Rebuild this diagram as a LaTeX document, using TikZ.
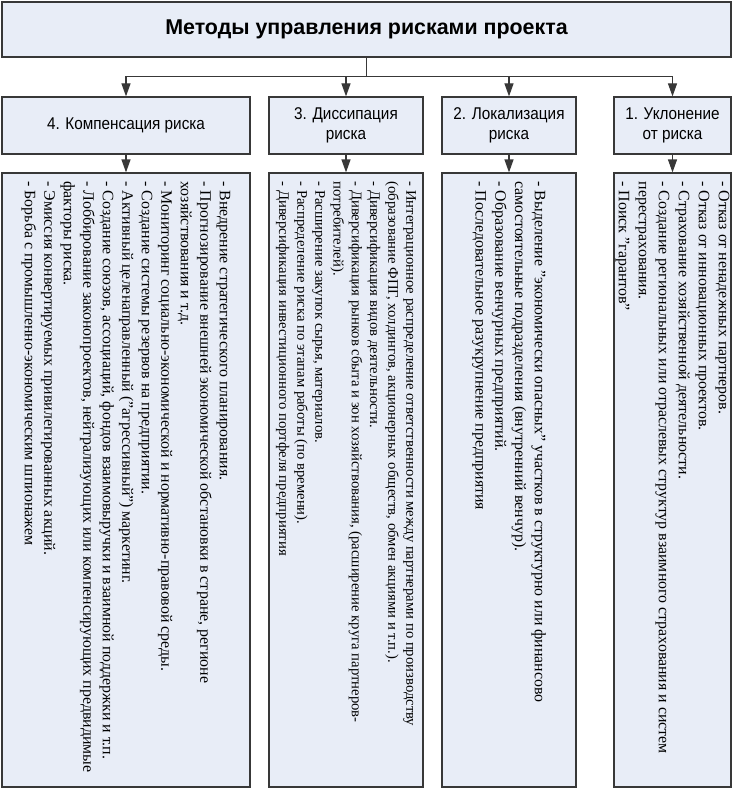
\documentclass[tikz,border=0pt]{standalone}
\usepackage{fontspec}
\setmainfont{Liberation Serif}
\newfontfamily\titlefont{Liberation Sans}
\newfontfamily\headfont{Liberation Sans}[FakeStretch=0.9]
\usepackage{tikz}
\usetikzlibrary{arrows.meta}
\definecolor{boxfill}{HTML}{E8EDF7}
\definecolor{boxline}{HTML}{383838}

\begin{document}
\begin{tikzpicture}[x=1pt, y=-1pt,
    box/.style={rectangle, draw=boxline, line width=1.2pt, fill=boxfill, inner sep=0pt},
    head/.style={box, minimum height=57pt, align=center, font=\headfont\fontsize{17}{20}\selectfont},
    list/.style={box, minimum height=614pt},
    items/.style={rotate=-90, anchor=west, align=left, inner sep=0pt},
    link/.style={draw=boxline, line width=1.2pt},
    arrow/.style={link, -{Triangle[width=9pt, length=13pt]}}]

    \useasboundingbox (0,0) rectangle (733,789);

    % Title
    \node[box, minimum width=729pt, minimum height=55pt,
          font=\titlefont\bfseries\fontsize{21.4}{24}\selectfont] (title) at (366.5,29.5) {Методы управления рисками проекта};
    \coordinate (fork) at ([yshift=-19pt]title.south);

    % Method headers
    \node[head, minimum width=248pt] (h4) at (126,125.5) {4. Компенсация риска};
    \node[head, minimum width=154pt] (h3) at (346,125.5) {3. Диссипация\\риска};
    \node[head, minimum width=134pt] (h2) at (509,125.5) {2. Локализация\\риска};
    \node[head, minimum width=117pt] (h1) at (672.5,125.5) {1. Уклонение\\от риска};

    % Method lists
    \node[list, minimum width=248pt] (l4) at (126,480) {};
    \node[list, minimum width=154pt] (l3) at (346,480) {};
    \node[list, minimum width=134pt] (l2) at (509,480) {};
    \node[list, minimum width=117pt] (l1) at (672.5,480) {};

    \node[items, font=\fontsize{15.9}{19.5}\selectfont] (t4) at ([yshift=-9pt]l4.north) {%
        - Внедрение стратегического планирования.\\
        - Прогнозирование внешней экономической обстановки в стране, регионе\\
        хозяйствования и т.д.\\
        - Мониторинг социально-экономической и нормативно-правовой среды.\\
        - Создание системы резервов на предприятии.\\
        - Активный целенаправленный ("агрессивный") маркетинг.\\
        - Создание союзов, ассоциаций, фондов взаимовыручки и взаимной поддержки и т.п.\\
        - Лоббирование законопроектов, нейтрализующих или компенсирующих предвидимые\\
        факторы риска.\\
        - Эмиссия конвертируемых привилегированных акций.\\
        - Борьба с промышленно-экономическим шпионажем};
    \node[items, font=\fontsize{14.7}{18.2}\selectfont] (t3) at ([yshift=-9pt]l3.north) {%
        - Интеграционное распределение ответственности между партнерами по производству\\
        (образование ФПГ, холдингов, акционерных обществ, обмен акциями и т.п.).\\
        - Диверсификация видов деятельности.\\
        - Диверсификация рынков сбыта и зон хозяйствования, (расширение круга партнеров-\\
        потребителей).\\
        - Расширение закупок сырья, материалов.\\
        - Распределение риска по этапам работы (по времени).\\
        - Диверсификация инвестиционного портфеля предприятия};
    \node[items, font=\fontsize{15.9}{19.7}\selectfont] (t2) at ([yshift=-9pt]l2.north) {%
        - Выделение "экономически опасных" участков в структурно или финансово\\
        самостоятельные подразделения (внутренний венчур).\\
        - Образование венчурных предприятий.\\
        - Последовательное разукрупнение предприятия};
    \node[items, font=\fontsize{15.9}{20}\selectfont] (t1) at ([yshift=-9pt]l1.north) {%
        - Отказ от ненадежных партнеров.\\
        - Отказ от инновационных проектов.\\
        - Страхование хозяйственной деятельности.\\
        - Создание региональных или отраслевых структур взаимного страхования и систем\\
        перестрахования.\\
        - Поиск "гарантов"};

    % Connectors
    \draw[link] (title.south) -- (fork);
    \foreach \n in {4,3,2,1} {
        \draw[arrow] (fork) -| (h\n.north);
        \draw[arrow] (h\n.south) -- (l\n.north);
    }
\end{tikzpicture}
\end{document}
